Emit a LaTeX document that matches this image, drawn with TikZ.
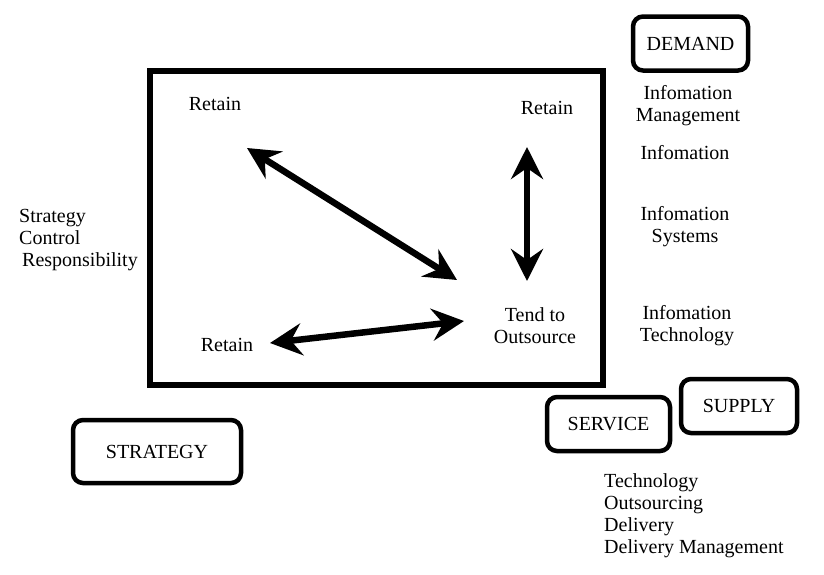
\documentclass[tikz,border=0pt]{standalone}
\usepackage{fontspec}
\setmainfont{Liberation Serif}
\newfontfamily\diagfont{Liberation Serif}
\usetikzlibrary{arrows.meta}
\begin{document}
\begin{tikzpicture}[x=1pt,y=-1pt,
  every node/.style={font=\diagfont\fontsize{20}{22}\selectfont, inner sep=0pt},
  lbl/.style={align=center},
  lftxt/.style={align=left, anchor=north west},
  tag/.style={draw, line width=4.5pt, rounded corners=10pt, minimum width=#1, minimum height=54pt},
  bigarrow/.style={line width=6.5pt, {Stealth[length=32pt,width=32pt,inset=11pt]}-{Stealth[length=32pt,width=32pt,inset=11pt]}, shorten <=0pt, shorten >=0pt}
]
\useasboundingbox (0,0) rectangle (824,574);
% main frame
\draw[line width=6.5pt] (150,71) rectangle (603,385);
% tagged boxes
\node[tag=115pt] (demand) at (690.5,43.5) {DEMAND};
\node[tag=116pt] (supply) at (739,406) {SUPPLY};
\node[tag=123pt] (service) at (608.5,424) {SERVICE};
\node[tag=168pt, minimum height=63pt] (strategy) at (157,451.5) {STRATEGY};
% texts inside frame
\node (rtl) at (215,104) {Retain};
\node (rtr) at (547,108) {Retain};
\node (rbl) at (227,345) {Retain};
\node[lbl] (tend) at (535,326) {Tend to\\Outsource};
% right column
\node[lbl] (im) at (688,106) {Infomation\\Management};
\node[lbl] (inf) at (685,153) {Infomation};
\node[lbl] (is) at (685,227) {Infomation\\Systems};
\node[lbl] (it) at (687,326) {Infomation\\Technology};
% left text
\node[lftxt] (scr) at (19,209) {Strategy\\Control\\\hspace*{3pt}Responsibility};
% bottom text
\node[lftxt] (tod) at (604,473) {Technology\\Outsourcing\\Delivery\\Delivery Management};
% arrow ends
\coordinate (a1) at (247,148);
\coordinate (a2) at (457,280);
\coordinate (b1) at (527,147);
\coordinate (b2) at (527,281);
\coordinate (c1) at (270,343);
\coordinate (c2) at (464,321);
\draw[bigarrow] (a1) -- (a2);
\draw[bigarrow] (b1) -- (b2);
\draw[bigarrow] (c1) -- (c2);
\end{tikzpicture}
\end{document}
